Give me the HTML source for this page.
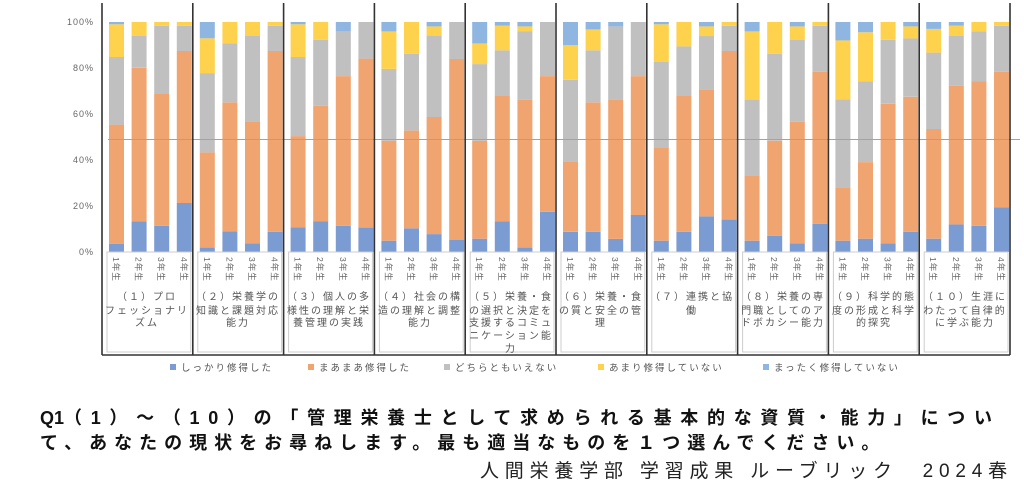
<!DOCTYPE html>
<html><head><meta charset="utf-8"><style>
body{margin:0;width:1024px;height:488px;background:#fff;overflow:hidden;position:relative;font-family:"Liberation Sans","Noto Sans CJK JP",sans-serif}
.q{position:absolute;left:40px;font-weight:bold;font-size:18px;color:#111;white-space:nowrap}
.f{position:absolute;left:480px;top:456px;font-size:19px;letter-spacing:5.8px;color:#222;white-space:nowrap}
</style></head><body>
<svg id="s" width="1024" height="400" style="position:absolute;left:0;top:0" font-family="Liberation Sans, Noto Sans CJK JP, sans-serif">
<g font-size="9" fill="#666" text-anchor="end" letter-spacing="1">
<text x="94" y="255">0%</text><text x="94" y="209">20%</text><text x="94" y="163">40%</text><text x="94" y="117">60%</text><text x="94" y="71">80%</text><text x="94" y="25">100%</text>
</g>
<g id="bars"></g>
<line x1="108" y1="139.5" x2="1020" y2="139.5" stroke="#8aa6d8" stroke-width="1"/>
<g id="lines"></g>
<g font-size="10" fill="#555" text-anchor="middle" letter-spacing="2">
<text x="147" y="300">（１）プロ</text><text x="147" y="314">フェッショナリ</text><text x="147" y="326">ズム</text>
<text x="238" y="300">（２）栄養学の</text><text x="238" y="314">知識と課題対応</text><text x="238" y="326">能力</text>
<text x="329" y="300">（３）個人の多</text><text x="329" y="314">様性の理解と栄</text><text x="329" y="326">養管理の実践</text>
<text x="420" y="300">（４）社会の構</text><text x="420" y="314">造の理解と調整</text><text x="420" y="326">能力</text>
<text x="511" y="300">（５）栄養・食</text><text x="511" y="314">の選択と決定を</text><text x="511" y="326">支援するコミュ</text><text x="511" y="339">ニケーション能</text><text x="511" y="352">力</text>
<text x="601" y="300">（６）栄養・食</text><text x="601" y="314">の質と安全の管</text><text x="601" y="326">理</text>
<text x="692" y="300">（７）連携と協</text><text x="692" y="314">働</text>
<text x="783" y="300">（８）栄養の専</text><text x="783" y="314">門職としてのア</text><text x="783" y="326">ドボカシー能力</text>
<text x="874" y="300">（９）科学的態</text><text x="874" y="314">度の形成と科学</text><text x="874" y="326">的探究</text>
<text x="965" y="300">（１０）生涯に</text><text x="965" y="314">わたって自律的</text><text x="965" y="326">に学ぶ能力</text>
</g>
<g font-size="9.5" fill="#555" letter-spacing="2">
<rect x="170" y="364" width="6" height="6" fill="#7b9bd3"/><text x="181" y="371">しっかり修得した</text>
<rect x="308" y="364" width="6" height="6" fill="#f0a570"/><text x="319" y="371">まあまあ修得した</text>
<rect x="444" y="364" width="6" height="6" fill="#c0c0c0"/><text x="455" y="371">どちらともいえない</text>
<rect x="598" y="364" width="6" height="6" fill="#ffd24d"/><text x="609" y="371">あまり修得していない</text>
<rect x="763" y="364" width="6" height="6" fill="#8fb6e0"/><text x="774" y="371">まったく修得していない</text>
</g>
</svg>
<div class="q" style="top:404px"><span style="letter-spacing:0">Q1</span><span style="letter-spacing:8.7px">（1）～（10）の「管理栄養士として求められる基本的な資質・能力」につい</span></div>
<div class="q" style="top:429px;letter-spacing:7px">て、あなたの現状をお尋ねします。最も適当なものを１つ選んでください。</div>
<div class="f">人間栄養学部 学習成果 ルーブリック　2024春</div>
<script>
var D=[
[[3.6,55.4,84.8,99],[13.3,80.1,93.9,100],[11.4,68.7,98.3,100],[21.3,87.4,98.3,100]],
[[1.9,43.3,77.8,92.9],[9,65.1,90.7,100],[3.8,56.7,93.9,100],[8.8,87.4,98.3,100]],
[[10.7,50.4,84.8,99],[13.3,63.5,92.3,100],[11.4,76.5,95.9,95.9],[10.6,84.1,100,100]],
[[4.9,48.4,79.6,95.9],[10.3,52.8,86.2,100],[7.8,58.7,94.1,98.1],[5.2,83.9,100,100]],
[[5.8,48.4,81.7,90.7],[13.3,68.1,87.7,98.4],[1.9,66.4,95.9,98.1],[17.5,76.5,100,100]],
[[8.8,39.3,74.8,89.9],[8.8,65.1,87.7,96.8],[5.7,66.4,98.1,98.1],[16.1,76.5,100,100]],
[[4.9,45.2,82.6,99],[8.8,68.1,89.4,100],[15.5,70.6,93.9,98.1],[14.1,87.4,98.3,100]],
[[4.9,33.2,66.4,95.9],[7.1,48.4,86.2,100],[3.8,56.8,92.2,98.1],[12.3,78.4,98.3,100]],
[[4.9,28,66.4,92],[5.8,39.1,74.2,95.5],[3.8,64.5,92.2,100],[8.8,67.5,92.9,98.1]],
[[5.8,53.5,86.7,97],[12,72.5,93.9,98.4],[11.4,74.3,95.9,100],[19.4,78.4,98.3,100]]];
var C=["#7b9bd3","#f0a570","#c0c0c0","#ffd24d","#8fb6e0"];
var Y=["1年生","2年生","3年生","4年生"];
var h="",l="";
for(var g=0;g<10;g++){var gx=102+g*90.8;
 for(var k=0;k<4;k++){var x=gx+7+k*22.6,v=[0].concat(D[g][k]).concat([100]);
  for(var s=0;s<5;s++){var a=v[s],b=v[s+1];if(b-a>0.05){h+='<rect x="'+x.toFixed(1)+'" y="'+(252-b*2.3).toFixed(1)+'" width="15" height="'+((b-a)*2.3).toFixed(1)+'" fill="'+C[s]+'"/>';}}
  h+='<text transform="translate('+(x+4).toFixed(1)+',257) rotate(90)" font-size="8.5" fill="#666" letter-spacing="1">'+Y[k]+'</text>';
 }
 l+='<rect x="'+(gx+5).toFixed(1)+'" y="252" width="'+(90.8-7)+'" height="100" fill="none" stroke="#ccc" stroke-width="1"/>';
}
for(var g=0;g<=10;g++){var gx=102+g*90.8;l+='<line x1="'+gx.toFixed(1)+'" y1="3" x2="'+gx.toFixed(1)+'" y2="355" stroke="#333" stroke-width="1.6"/>';}
l+='<line x1="102" y1="355" x2="1010" y2="355" stroke="#333" stroke-width="1.6"/>';
document.getElementById("bars").innerHTML=h;
document.getElementById("lines").innerHTML=l;
</script>
</body></html>
